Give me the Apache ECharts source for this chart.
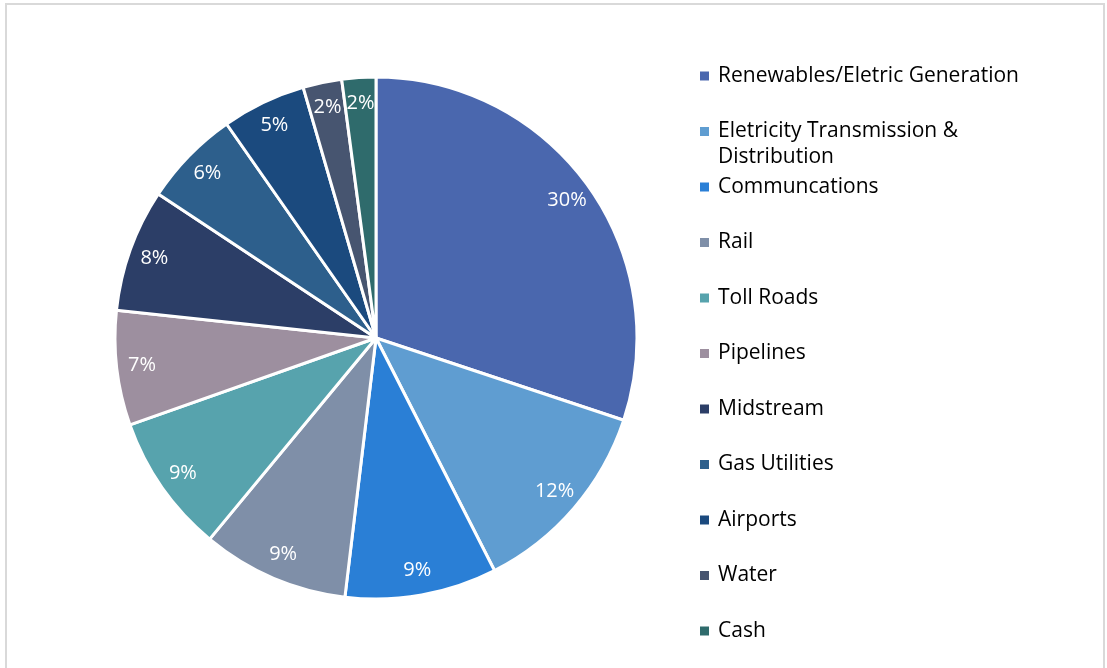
<!DOCTYPE html>
<html>
<head>
<meta charset="utf-8">
<script src="https://cdn.jsdelivr.net/npm/echarts@6/dist/echarts.min.js"></script>
<style>
  html, body { margin: 0; padding: 0; background: #ffffff; }
  #chart { width: 1107px; height: 668px; }
</style>
</head>
<body>
<div id="chart"></div>
<script>
const categories = [
  'Renewables/Eletric Generation',
  'Eletricity Transmission & Distribution',
  'Communcations',
  'Rail',
  'Toll Roads',
  'Pipelines',
  'Midstream',
  'Gas Utilities',
  'Airports',
  'Water',
  'Cash'
];
const values = [30.1, 12.4, 9.4, 9.1, 8.6, 7.1, 7.6, 6.0, 5.2, 2.4, 2.1];
const colors = ['#4a67ae', '#5f9dd1', '#2a7fd6', '#7f8fa8', '#57a3ad', '#9d8f9f',
                '#2c3e67', '#2d5f8c', '#1b4a7e', '#475570', '#2f6b6c'];

const FONT = 'Open Sans';
const chart = echarts.init(document.getElementById('chart'));

const pieData = categories.map((name, i) => ({ name: name, value: values[i], itemStyle: { color: colors[i] } }));
const labelData = categories.map((name, i) => ({ name: name, value: values[i] }));

chart.setOption({
  backgroundColor: '#ffffff',
  animation: false,
  color: colors,
  graphic: [
    { type: 'rect', shape: { x: 6, y: 4, width: 1098, height: 700 },
      style: { fill: 'none', stroke: '#d9d9d9', lineWidth: 2 }, silent: true },
    { type: 'text', left: 718, top: 147,
      style: { text: 'Distribution', fill: '#000000', font: '21px "' + FONT + '"' } }
  ],
  legend: {
    orient: 'vertical',
    left: 700,
    top: 65,
    padding: 0,
    itemWidth: 9,
    itemHeight: 9,
    itemGap: 33.5,
    icon: 'rect',
    data: categories,
    selectedMode: false,
    itemStyle: { borderWidth: 0 },
    formatter: function (name) {
      return name === 'Eletricity Transmission & Distribution' ? 'Eletricity Transmission &' : name;
    },
    textStyle: { fontFamily: FONT, fontSize: 21, color: '#000000', lineHeight: 22, padding: [0, 0, 0, 4] }
  },
  series: [
    {
      type: 'pie',
      center: [376, 338],
      radius: [0, 261],
      startAngle: 90,
      clockwise: true,
      data: pieData,
      label: { show: false },
      labelLine: { show: false },
      itemStyle: { borderColor: '#ffffff', borderWidth: 3 },
      emphasis: { disabled: true }
    },
    {
      type: 'pie',
      center: [376, 338],
      radius: [204, 261],
      startAngle: 90,
      clockwise: true,
      silent: true,
      data: labelData,
      itemStyle: { color: 'rgba(0,0,0,0)', borderWidth: 0 },
      labelLine: { show: false },
      label: {
        show: true,
        position: 'inside',
        color: '#ffffff',
        fontFamily: FONT,
        fontSize: 20,
        formatter: function (p) { return Math.round(p.percent) + '%'; }
      },
      emphasis: { disabled: true }
    }
  ]
});
</script>
</body>
</html>
